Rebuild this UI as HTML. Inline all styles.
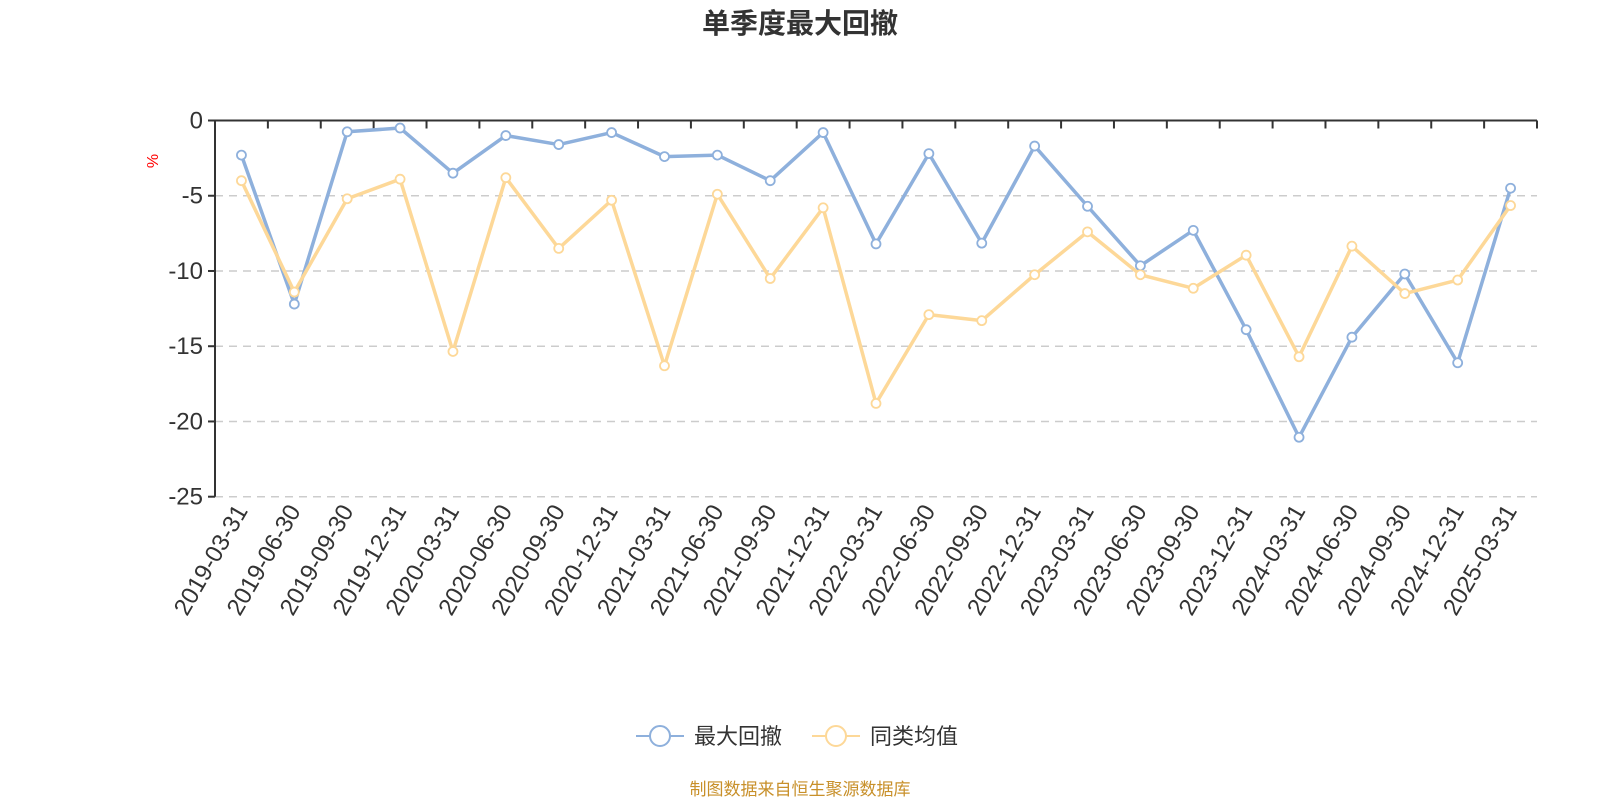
<!DOCTYPE html>
<html><head><meta charset="utf-8"><style>
body{margin:0;background:#fff;width:1600px;height:800px;overflow:hidden;font-family:"Liberation Sans","Noto Sans CJK SC",sans-serif;}
</style></head><body>
<svg id="chart" width="1600" height="800" xmlns="http://www.w3.org/2000/svg" font-family="Liberation Sans, Noto Sans CJK SC, sans-serif">
<text x="800" y="33" text-anchor="middle" font-size="28" font-weight="bold" fill="#333">单季度最大回撤</text>
<text x="0" y="0" transform="translate(158,161) rotate(-90)" text-anchor="middle" font-size="16" fill="#f00">%</text>
<g id="grid"></g><g id="axes"></g><g id="series"></g>
<g>
<g>
<line x1="636" y1="736" x2="684" y2="736" stroke="#8eb0dc" stroke-width="2"/><circle cx="660" cy="736" r="10" fill="#fff" stroke="#8eb0dc" stroke-width="2"/>
<text x="694" y="744" font-size="22" fill="#333">最大回撤</text></g>
<g>
<line x1="812" y1="736" x2="860" y2="736" stroke="#fdd898" stroke-width="2"/><circle cx="836" cy="736" r="10" fill="#fff" stroke="#fdd898" stroke-width="2"/>
<text x="870" y="744" font-size="22" fill="#333">同类均值</text></g>
</g>
<text x="800" y="795" text-anchor="middle" font-size="17" fill="#c8902a">制图数据来自恒生聚源数据库</text>
</svg>
<script>
const categories=["2019-03-31","2019-06-30","2019-09-30","2019-12-31","2020-03-31","2020-06-30","2020-09-30","2020-12-31","2021-03-31","2021-06-30","2021-09-30","2021-12-31","2022-03-31","2022-06-30","2022-09-30","2022-12-31","2023-03-31","2023-06-30","2023-09-30","2023-12-31","2024-03-31","2024-06-30","2024-09-30","2024-12-31","2025-03-31"];
const maxDrawdown=[-2.3,-12.2,-0.75,-0.5,-3.5,-1.0,-1.6,-0.8,-2.4,-2.3,-4.0,-0.8,-8.2,-2.2,-8.15,-1.7,-5.7,-9.65,-7.3,-13.9,-21.05,-14.4,-10.2,-16.1,-4.5];
const peerAverage=[-4.0,-11.4,-5.2,-3.9,-15.35,-3.8,-8.5,-5.3,-16.3,-4.9,-10.5,-5.8,-18.8,-12.9,-13.3,-10.25,-7.4,-10.25,-11.15,-8.95,-15.7,-8.35,-11.5,-10.6,-5.65];
const yTicks=[0,-5,-10,-15,-20,-25];
const NS="http://www.w3.org/2000/svg";
const L=215,R=1537,T=120.5,B=496.7,yMin=-25,yMax=0;
const band=(R-L)/categories.length;
const xPos=i=>L+band*(i+0.5);
const yPos=v=>T+(yMax-v)/(yMax-yMin)*(B-T);
function mk(tag,attrs,parent){const e=document.createElementNS(NS,tag);for(const k in attrs)e.setAttribute(k,attrs[k]);parent.appendChild(e);return e;}
const grid=document.getElementById('grid'),axes=document.getElementById('axes'),series=document.getElementById('series');
yTicks.forEach(v=>{const y=yPos(v);
 if(v!==0){const g=mk('line',{x1:L,x2:R,y1:y,y2:y,stroke:'#ccc','stroke-width':1.5,'stroke-dasharray':'8,6'},grid);
 
 }
 const t=mk('line',{x1:L-7,x2:L,y1:y,y2:y,stroke:'#333','stroke-width':2},axes);
 
 
 const lb=mk('text',{x:L-12,y:y+8,'text-anchor':'end','font-size':24,fill:'#333'},axes);lb.textContent=v;
 
 
});
const ya=mk('line',{x1:L,x2:L,y1:T,y2:B,stroke:'#333','stroke-width':2},axes);


const xa=mk('line',{x1:L,x2:R,y1:T,y2:T,stroke:'#333','stroke-width':2},axes);


for(let i=0;i<=categories.length;i++){const x=L+band*i;
 const t=mk('line',{x1:x,x2:x,y1:T,y2:T+8,stroke:'#333','stroke-width':2},axes);
 
 }
categories.forEach((c,i)=>{const x=xPos(i)+7,y=B+14;
 const lb=mk('text',{x:0,y:0,transform:`translate(${x},${y}) rotate(-60)`,'text-anchor':'end','font-size':24,fill:'#333'},axes);lb.textContent=c;
 
 });
function drawSeries(data,color,name){
 const p=mk('polyline',{points:data.map((v,i)=>xPos(i)+','+yPos(v)).join(' '),fill:'none',stroke:color,'stroke-width':3.5,'stroke-linejoin':'round'},series);
 
 
 data.forEach((v,i)=>{const c=mk('circle',{cx:xPos(i),cy:yPos(v),r:4.5,fill:'#fff',stroke:color,'stroke-width':1.8},series);
 
 });
}
drawSeries(maxDrawdown,'#8eb0dc','max-drawdown');
drawSeries(peerAverage,'#fdd898','peer-average');
</script>
</body></html>
